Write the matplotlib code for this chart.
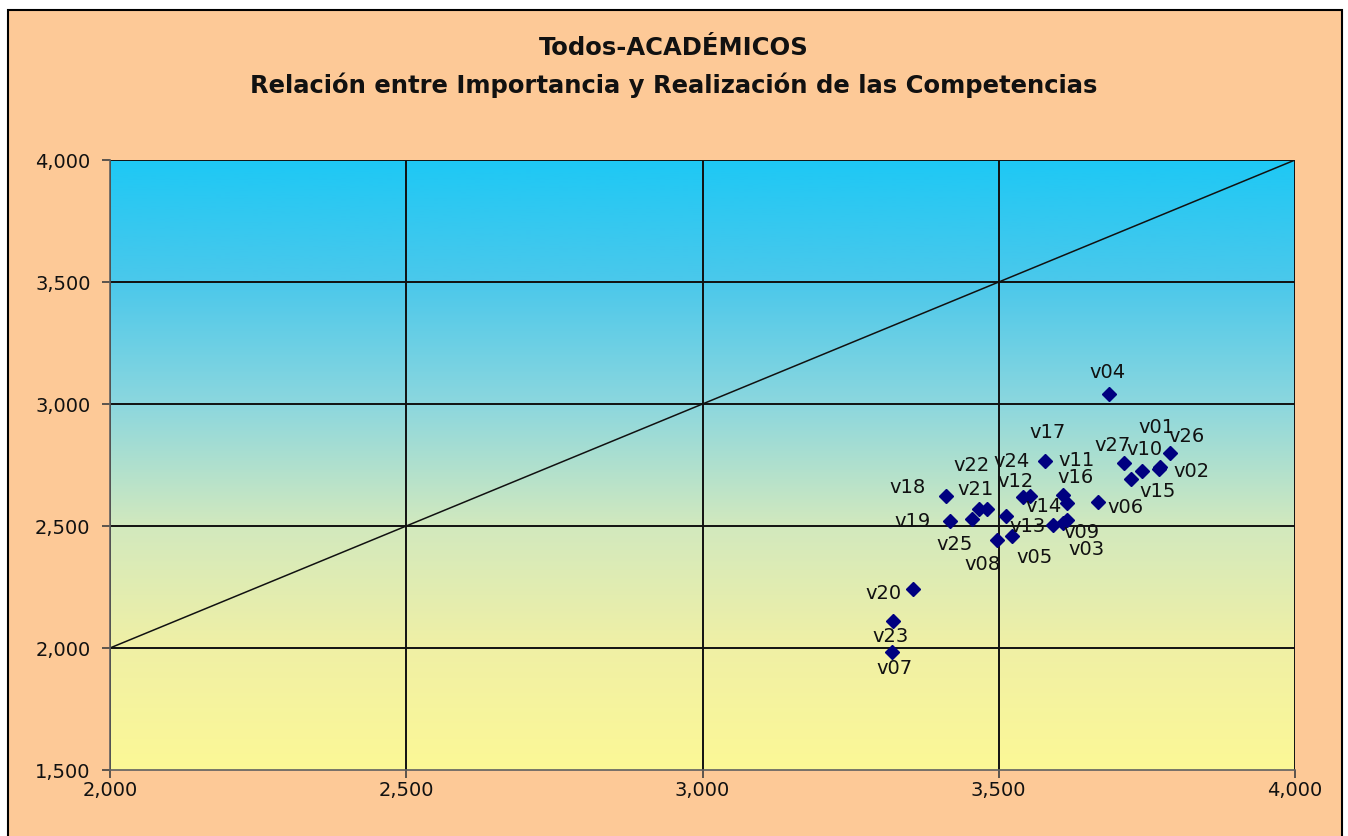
import numpy as np
import matplotlib.pyplot as plt
from matplotlib.patches import Rectangle
from matplotlib.ticker import FuncFormatter

plt.rcParams['font.family'] = ['DejaVu Sans']

# datos: importancia (x) y realizacion (y) de cada competencia
etiquetas = ['v01', 'v02', 'v03', 'v04', 'v05', 'v06', 'v07', 'v08', 'v09',
             'v10', 'v11', 'v12', 'v13', 'v14', 'v15', 'v16', 'v17', 'v18',
             'v19', 'v20', 'v21', 'v22', 'v23', 'v24', 'v25', 'v26', 'v27']
importancia = [3.772, 3.770, 3.615, 3.686, 3.522, 3.668, 3.320, 3.497, 3.608,
               3.742, 3.608, 3.553, 3.592, 3.541, 3.723, 3.615, 3.578, 3.411,
               3.418, 3.355, 3.467, 3.480, 3.322, 3.512, 3.455, 3.789, 3.711]
realizacion = [2.742, 2.734, 2.525, 3.041, 2.459, 2.598, 1.984, 2.443, 2.512,
               2.726, 2.627, 2.623, 2.504, 2.619, 2.693, 2.594, 2.766, 2.623,
               2.521, 2.242, 2.570, 2.570, 2.111, 2.541, 2.529, 2.799, 2.758]
ticks = [2.0, 2.5, 3.0, 3.5, 4.0]

# desplazamiento de cada etiqueta en pixeles (dx, dy)
desplaz = {'v01': (-3, 39), 'v02': (33, -3), 'v03': (20, -30), 'v04': (-1, 21),
           'v05': (23, -21), 'v06': (27, -5), 'v07': (2, -17), 'v08': (-14, -25),
           'v09': (19, -9), 'v10': (2, 21), 'v11': (14, 35), 'v12': (-15, 14),
           'v13': (-26, -1), 'v14': (21, -10), 'v15': (27, -13), 'v16': (9, 26),
           'v17': (3, 29), 'v18': (-38, 8), 'v19': (-38, -1), 'v20': (-29, -5),
           'v21': (-4, 19), 'v22': (-15, 43), 'v23': (-3, -16), 'v24': (6, 54),
           'v25': (-17, -26), 'v26': (17, 17), 'v27': (-11, 18)}

fig = plt.figure(figsize=(13.48, 8.36), dpi=100)
fig.patch.set_facecolor('white')
fig.patches.append(Rectangle((8 / 1348, -0.02), 1334 / 1348, 1.02 - 10 / 836,
                             transform=fig.transFigure, facecolor='#FDC997',
                             edgecolor='black', linewidth=1.5, zorder=-10))

ax = fig.add_axes([110 / 1348, 1 - 770 / 836, 1185 / 1348, 610 / 836])
ax.set_xlim(2, 4)
ax.set_ylim(1.5, 4)

# fondo degradado azul -> amarillo
paradas = [0.0, 0.2, 0.4, 0.6, 0.8, 1.0]
colores = np.array([[30, 200, 245], [75, 200, 235], [140, 215, 222],
                    [210, 233, 190], [240, 240, 165], [252, 248, 150]]) / 255
t = np.linspace(0, 1, 300)
grad = np.stack([np.interp(t, paradas, colores[:, i]) for i in range(3)], axis=1)
ax.imshow(grad[:, None, :], extent=[2, 4, 1.5, 4], aspect='auto', zorder=0)

for v in ticks:
    ax.axvline(v, color='#111111', lw=1.4, zorder=1)
    ax.axhline(v, color='#111111', lw=1.4, zorder=1)
ax.plot([2, 4], [2, 4], color='#111111', lw=1.1, zorder=2)

ax.plot(importancia, realizacion, 'D', color='#000080', ms=7, zorder=3)
for lab, x, y in zip(etiquetas, importancia, realizacion):
    dx, dy = desplaz[lab]
    ax.annotate(lab, (x, y), xytext=(dx, dy), textcoords='offset pixels',
                ha='center', va='center', fontsize=14, color='#111111', zorder=4)

fmt = FuncFormatter(lambda v, p: f'{v * 1000:,.0f}')
ax.set_xticks(ticks)
ax.set_yticks([1.5, 2.0, 2.5, 3.0, 3.5, 4.0])
ax.xaxis.set_major_formatter(fmt)
ax.yaxis.set_major_formatter(fmt)
ax.tick_params(labelsize=14, length=6, width=1.2, color='#404040',
               labelcolor='#111111')
ax.tick_params(axis='x', pad=2)
ax.tick_params(axis='y', pad=8)
for s in ['top', 'right']:
    ax.spines[s].set_visible(False)
for s in ['left', 'bottom']:
    ax.spines[s].set_color('#606060')
    ax.spines[s].set_linewidth(1.2)

fig.text(0.5, 1 - 48 / 836, 'Todos-ACADÉMICOS', ha='center', va='center',
         fontsize=17.5, fontweight='bold', color='#111111')
fig.text(0.5, 1 - 85 / 836, 'Relación entre Importancia y Realización de las Competencias',
         ha='center', va='center', fontsize=17.5, fontweight='bold', color='#111111')

fig.savefig('out.png', dpi=100)
